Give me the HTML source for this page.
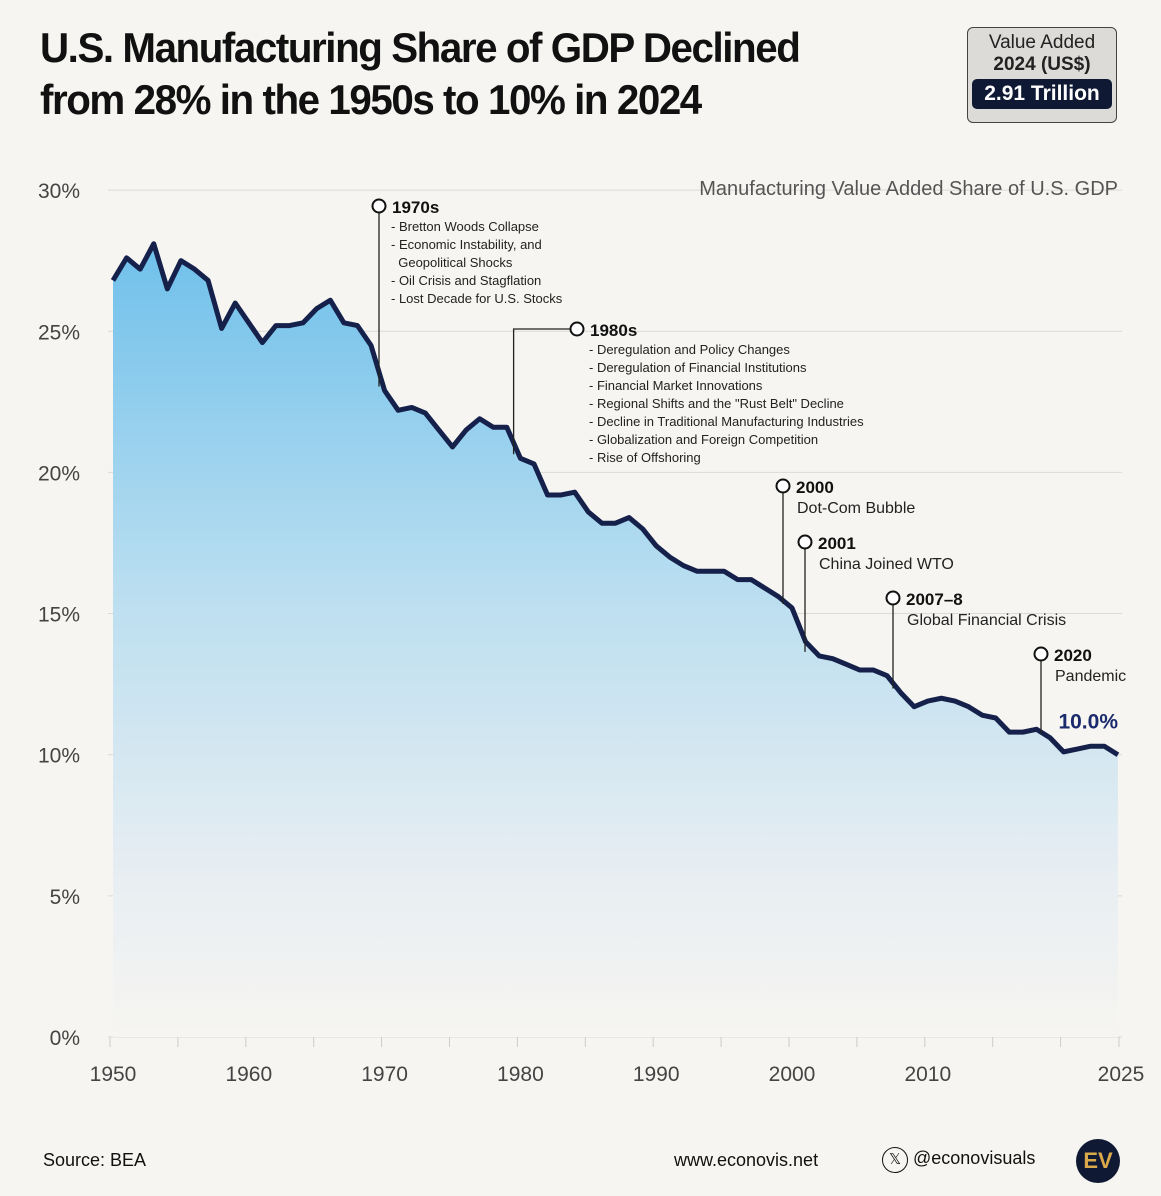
<!DOCTYPE html>
<html><head><meta charset="utf-8">
<style>
body{margin:0;background:#f6f5f1;font-family:"Liberation Sans",sans-serif;}
#wrap{position:relative;width:1161px;height:1196px;overflow:hidden;background:#f6f5f1;}
.t{position:absolute;}
</style></head>
<body>
<div id="wrap">
<div class="t" style="left:40px;top:22px;font-size:42px;font-weight:bold;line-height:52px;color:#111;letter-spacing:-1.5px;transform:scaleX(0.96);transform-origin:left top;">U.S. Manufacturing Share of GDP Declined<br>from 28% in the 1950s to 10% in 2024</div>
<div class="t" style="left:967px;top:27px;width:148px;height:94px;border:1.5px solid #444;border-radius:6px;background:#dcdbd8;text-align:center;">
 <div style="font-size:19px;color:#222;line-height:22px;margin-top:4px;">Value Added</div>
 <div style="font-size:19px;color:#222;font-weight:bold;line-height:22px;">2024 (US$)</div>
 <div style="margin:3px 4px 0;background:#0f1933;color:#fff;border-radius:5px;font-size:21px;font-weight:bold;line-height:30px;">2.91 Trillion</div>
</div>
<svg id="chart" width="1161" height="1196" style="position:absolute;left:0;top:0;">
<defs><linearGradient id="fillg" x1="0" y1="0" x2="0" y2="1">
<stop offset="0" stop-color="#6fc0eb"/><stop offset="0.45" stop-color="#bcdff0"/><stop offset="0.8" stop-color="#e8eef2"/><stop offset="1" stop-color="#f6f5f1"/></linearGradient></defs>
<g id="grid"></g><g id="area"></g><g id="annots"></g><g id="axes"></g>
</svg>
<div class="t" style="right:43px;top:178px;font-size:20px;color:#555;">Manufacturing Value Added Share of U.S. GDP</div>
<div class="t" style="left:43px;top:1150px;font-size:18px;color:#111;">Source: BEA</div>
<div class="t" style="left:674px;top:1150px;font-size:18px;color:#111;">www.econovis.net</div>
<div class="t" style="left:882px;top:1147px;font-size:18px;color:#111;"><span style="display:inline-block;width:24px;height:24px;border:1px solid #111;border-radius:50%;text-align:center;line-height:24px;font-size:15px;">𝕏</span> @econovisuals</div>
<div class="t" style="left:1076px;top:1139px;width:44px;height:44px;border-radius:50%;background:#0f1933;color:#d9a94a;font-weight:bold;font-size:22px;text-align:center;line-height:44px;">EV</div>
</div>
<script>
const years=[];for(let y=1950;y<=2024;y++)years.push(y);
const shares=[26.8,27.6,27.2,28.1,26.5,27.5,27.2,26.8,25.1,26.0,25.3,24.6,25.2,25.2,25.3,25.8,26.1,25.3,25.2,24.5,
22.9,22.2,22.3,22.1,21.5,20.9,21.5,21.9,21.6,21.6,20.5,20.3,19.2,19.2,19.3,18.6,18.2,18.2,18.4,18.0,
17.4,17.0,16.7,16.5,16.5,16.5,16.2,16.2,15.9,15.6,15.2,14.0,13.5,13.4,13.2,13.0,13.0,12.8,12.2,11.7,
11.9,12.0,11.9,11.7,11.4,11.3,10.8,10.8,10.9,10.6,10.1,10.2,10.3,10.3,10.0];
const yTicks=[0,5,10,15,20,25,30];
const xTickLabels=[1950,1960,1970,1980,1990,2000,2010,2025];
const NS="http://www.w3.org/2000/svg";
const x=y=>113+(y-1950)*13.58;
const yS=v=>1037-v*28.23;
function mk(tag,attrs,parent,text){const e=document.createElementNS(NS,tag);for(const k in attrs)e.setAttribute(k,attrs[k]);if(text!==undefined)e.textContent=text;parent.appendChild(e);return e;}
const grid=document.getElementById('grid'),area=document.getElementById('area'),axes=document.getElementById('axes'),an=document.getElementById('annots');
yTicks.forEach(v=>{
 const l=mk('line',{x1:108,x2:1122,y1:yS(v),y2:yS(v),stroke:'#dcdad5','stroke-width':1},grid);
 
 
 const t=mk('text',{x:80,y:yS(v)+8,'text-anchor':'end','font-size':21,fill:'#444','font-family':'Liberation Sans'},axes,v+'%');
 
 
});
for(let t=1950;t<=2025;t+=5){
 const l=mk('line',{x1:Math.min(x(t),1122)-3,x2:Math.min(x(t),1122)-3,y1:1037,y2:1047,stroke:'#ccc'},axes);
 
 
}
xTickLabels.forEach(t=>{
 const e=mk('text',{x:Math.min(x(t),1121),y:1081,'text-anchor':'middle','font-size':21,fill:'#444','font-family':'Liberation Sans'},axes,t);
 
 
});
let pts=years.map((y,i)=>x(y)+','+yS(shares[i]));
const ar=mk('path',{d:'M'+x(years[0])+','+yS(0)+' L'+pts.join(' L')+' L'+x(years[years.length-1])+','+yS(0)+'Z',fill:'url(#fillg)'},area);


const ln=mk('polyline',{points:pts.join(' '),fill:'none',stroke:'#15214a','stroke-width':5,'stroke-linejoin':'round'},area);


const lastI=shares.length-1;
const lv=mk('text',{x:1118,y:yS(shares[lastI])-26,'text-anchor':'end','font-size':21,'font-weight':'bold',fill:'#1a2a6c','font-family':'Liberation Sans'},area,shares[lastI].toFixed(1)+'%');


const notes=[
 [1970,379,206,'1970s',['- Bretton Woods Collapse','- Economic Instability, and','  Geopolitical Shocks','- Oil Crisis and Stagflation','- Lost Decade for U.S. Stocks'],false,14],
 [1979.5,577,329,'1980s',['- Deregulation and Policy Changes','- Deregulation of Financial Institutions','- Financial Market Innovations','- Regional Shifts and the "Rust Belt" Decline','- Decline in Traditional Manufacturing Industries','- Globalization and Foreign Competition','- Rise of Offshoring'],true,14],
 [2000,783,486,'2000',['Dot-Com Bubble'],false,17],
 [2001.6,805,542,'2001',['China Joined WTO'],false,17],
 [2008,893,598,'2007–8',['Global Financial Crisis'],false,17],
 [2019,1041,654,'2020',['Pandemic'],false,17]
];
notes.forEach(n=>{
 const [yr,cx,cy,title,lines,elbow,fs]=n;
 const idx=Math.round(yr)-1950;const lx=x(yr),ly=yS(shares[Math.min(idx,lastI)])-4;
 const g=mk('g',{},an);
 
 
 if(elbow) mk('path',{d:`M${lx},${ly} L${lx},${cy} L${cx-7},${cy}`,fill:'none',stroke:'#222','stroke-width':1.3},g);
 else mk('line',{x1:cx,x2:cx,y1:cy+7,y2:ly,stroke:'#222','stroke-width':1.3},g);
 mk('circle',{cx:cx,cy:cy,r:6.5,fill:'#fff',stroke:'#111','stroke-width':2},g);
 mk('text',{x:cx+13,y:cy+7,'font-size':17,'font-weight':'bold',fill:'#111','font-family':'Liberation Sans'},g,title);
 lines.forEach((s,i)=>{mk('text',{x:cx+(fs==14?12:14),y:cy+(fs==14?25:27)+i*(fs==14?18:22),'font-size':fs==14?13:16,fill:'#222','font-family':'Liberation Sans',style:'white-space:pre'},g,s);});
});
</script>
</body></html>
